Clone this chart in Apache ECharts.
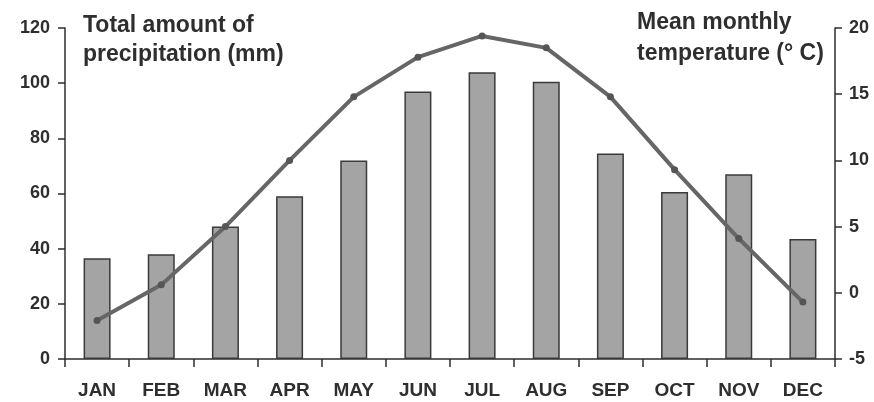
<!DOCTYPE html>
<html>
<head>
<meta charset="utf-8">
<script src="https://cdn.jsdelivr.net/npm/echarts@6/dist/echarts.min.js"></script>
<style>
  html, body { margin: 0; padding: 0; background: #fff; }
  #chart { width: 874px; height: 402px; }
</style>
</head>
<body>
<div id="chart"></div>
<script>
// monthly values
const months = ['JAN', 'FEB', 'MAR', 'APR', 'MAY', 'JUN', 'JUL', 'AUG', 'SEP', 'OCT', 'NOV', 'DEC'];
const precipitation = [36.5, 38, 48, 59, 72, 97, 104, 100.5, 74.5, 60.5, 67, 43.5];
const temperature = [-2.1, 0.6, 5, 10, 14.8, 17.8, 19.4, 18.5, 14.8, 9.3, 4.1, -0.7];

const font = 'Liberation Sans, Arial, sans-serif';
const ink = '#2e2e2e';

const myChart = echarts.init(document.getElementById('chart'));
myChart.setOption({
    backgroundColor: '#fff',
    animation: false,
    grid: { left: 65, right: 39, top: 28, bottom: 43 },
    xAxis: {
        type: 'category',
        data: months,
        axisLine: { lineStyle: { color: ink, width: 1.5 } },
        axisTick: { show: true, length: 8, lineStyle: { color: ink, width: 1.5 } },
        axisLabel: { color: ink, fontFamily: font, fontWeight: 'bold', fontSize: 19, margin: 22 }
    },
    yAxis: [{
        type: 'value',
        min: 0, max: 120, interval: 20,
        splitLine: { show: false },
        axisLine: { show: true, lineStyle: { color: ink, width: 1.5 } },
        axisTick: { show: true, length: 7, lineStyle: { color: ink, width: 1.5 } },
        axisLabel: { color: ink, fontFamily: font, fontWeight: 'bold', fontSize: 18, margin: 15 }
    }, {
        type: 'value',
        position: 'right',
        min: -5, max: 20, interval: 5,
        splitLine: { show: false },
        axisLine: { show: true, lineStyle: { color: ink, width: 1.5 } },
        axisTick: { show: true, length: 7, lineStyle: { color: ink, width: 1.5 } },
        axisLabel: { color: ink, fontFamily: font, fontWeight: 'bold', fontSize: 18, margin: 14 }
    }],
    graphic: [{
        type: 'text', left: 83, top: 11,
        style: { text: 'Total amount of\nprecipitation (mm)', font: 'bold 23px ' + font, fill: ink, lineHeight: 29 }
    }, {
        type: 'text', left: 637, top: 7,
        style: { text: 'Mean monthly\ntemperature (° C)', font: 'bold 23px ' + font, fill: ink, lineHeight: 31 }
    }],
    series: [{
        type: 'bar',
        yAxisIndex: 0,
        barWidth: 27,
        itemStyle: { color: '#a4a4a4', borderColor: '#3a3a3a', borderWidth: 1.5 },
        data: precipitation
    }, {
        type: 'line',
        yAxisIndex: 1,
        symbol: 'circle',
        symbolSize: 7,
        lineStyle: { color: '#666', width: 4 },
        itemStyle: { color: '#555' },
        data: temperature
    }]
});
</script>
</body>
</html>
